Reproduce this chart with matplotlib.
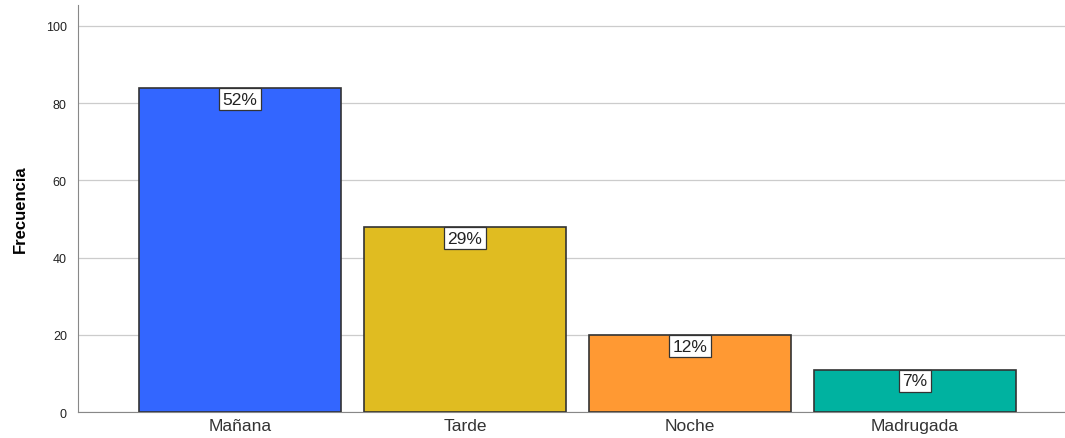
import matplotlib
matplotlib.use("Agg")
import matplotlib.pyplot as plt

# data
categorias = ["Mañana", "Tarde", "Noche", "Madrugada"]
frecuencias = [84, 48, 20, 11]
porcentajes = ["52%", "29%", "12%", "7%"]
colores = ["#3366FF", "#E0BC21", "#FF9933", "#00B2A0"]

plt.rcParams["font.family"] = ["Liberation Sans", "DejaVu Sans"]

fig = plt.figure(figsize=(10.65, 4.39), dpi=100)
ax = fig.add_axes([0.0732, 0.0592, 0.9268, 0.9271])

x = range(len(categorias))
ax.bar(x, frecuencias, width=0.9, color=colores, edgecolor="#333333",
       linewidth=1.2, zorder=3)

for i, (v, p) in enumerate(zip(frecuencias, porcentajes)):
    ax.text(i, v - 1.0, p, ha="center", va="top", fontsize=12.5, color="#222222",
            bbox=dict(boxstyle="square,pad=0.22", facecolor="white",
                      edgecolor="#333333", linewidth=0.9), zorder=4)

ax.set_xlim(-0.72, 3.667)
ax.set_ylim(0, 105.4)
ax.set_yticks([0, 20, 40, 60, 80, 100])
ax.set_xticks(list(x))
ax.set_xticklabels(categorias, fontsize=12.5, color="#333333")
ax.tick_params(axis="y", labelsize=9, length=0, pad=8, colors="#222222")
ax.tick_params(axis="x", length=0, pad=4)

ax.grid(axis="y", color="#CCCCCC", linewidth=0.9, zorder=0)
for s in ["top", "right"]:
    ax.spines[s].set_visible(False)
ax.spines["left"].set_color("#888888")
ax.spines["bottom"].set_color("#888888")

ax.set_ylabel("Frecuencia", fontsize=12, fontweight="bold", labelpad=13)

fig.savefig("out.png", dpi=100)
